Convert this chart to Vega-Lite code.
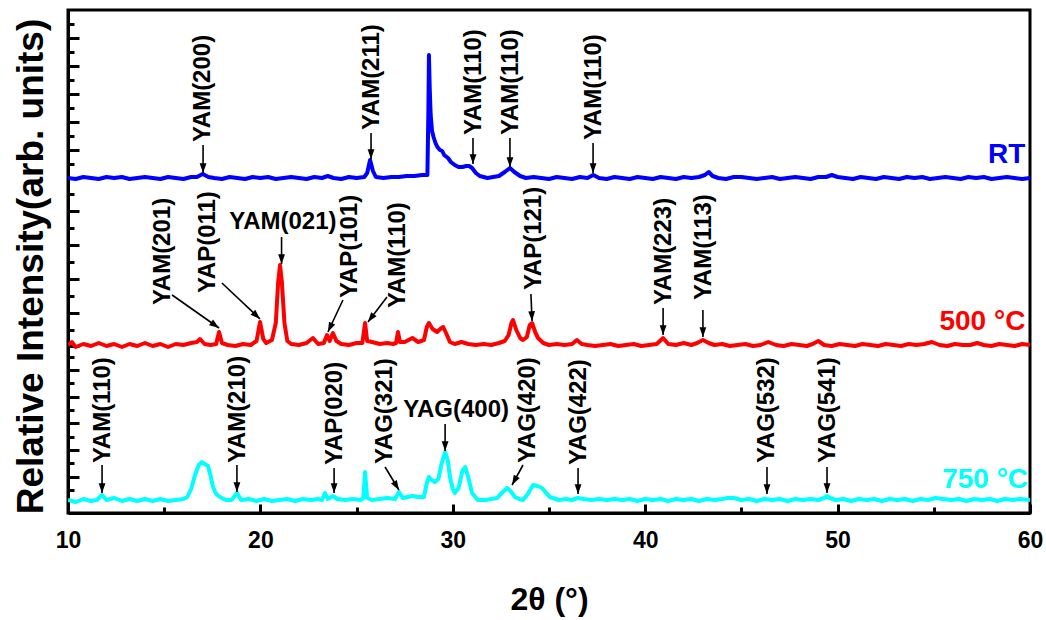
{
"$schema": "https://vega.github.io/schema/vega-lite/v6.json",
"width": 962, "height": 503,
"autosize": {"type": "none"},
"padding": {"left": 68, "top": 10, "right": 16, "bottom": 107},
"config": {"font": "Liberation Sans", "view": {"stroke": "black", "strokeWidth": 3}},
"resolve": {"scale": {"x": "independent", "y": "independent"}, "axis": {"x": "independent", "y": "independent"}},
"datasets": {
"curves": [
{"s":"RT","x":10.0,"h":335},{"s":"RT","x":10.4,"h":334},{"s":"RT","x":10.8,"h":336},{"s":"RT","x":11.2,"h":335},{"s":"RT","x":11.6,"h":334},{"s":"RT","x":12.0,"h":336},{"s":"RT","x":12.4,"h":335},{"s":"RT","x":12.8,"h":336},{"s":"RT","x":13.2,"h":334},{"s":"RT","x":13.6,"h":335},{"s":"RT","x":14.0,"h":336},{"s":"RT","x":14.4,"h":335},{"s":"RT","x":14.8,"h":334},{"s":"RT","x":15.2,"h":336},{"s":"RT","x":15.6,"h":335},{"s":"RT","x":16.0,"h":334},{"s":"RT","x":16.4,"h":336},{"s":"RT","x":16.7,"h":336},{"s":"RT","x":17.0,"h":339},{"s":"RT","x":17.3,"h":336},{"s":"RT","x":17.6,"h":335},{"s":"RT","x":18.0,"h":334},{"s":"RT","x":18.4,"h":336},{"s":"RT","x":18.8,"h":335},{"s":"RT","x":19.2,"h":334},{"s":"RT","x":19.6,"h":336},{"s":"RT","x":20.0,"h":335},{"s":"RT","x":20.4,"h":336},{"s":"RT","x":20.8,"h":334},{"s":"RT","x":21.2,"h":335},{"s":"RT","x":21.6,"h":336},{"s":"RT","x":22.0,"h":335},{"s":"RT","x":22.4,"h":334},{"s":"RT","x":22.8,"h":336},{"s":"RT","x":23.2,"h":335},{"s":"RT","x":23.5,"h":337},{"s":"RT","x":23.8,"h":335},{"s":"RT","x":24.2,"h":334},{"s":"RT","x":24.6,"h":336},{"s":"RT","x":25.0,"h":335},{"s":"RT","x":25.4,"h":336},{"s":"RT","x":25.55,"h":340},{"s":"RT","x":25.7,"h":353},{"s":"RT","x":25.85,"h":342},{"s":"RT","x":26.0,"h":336},{"s":"RT","x":26.4,"h":335},{"s":"RT","x":26.8,"h":336},{"s":"RT","x":27.2,"h":336},{"s":"RT","x":27.6,"h":337},{"s":"RT","x":28.0,"h":337},{"s":"RT","x":28.4,"h":338},{"s":"RT","x":28.68,"h":338},{"s":"RT","x":28.73,"h":400},{"s":"RT","x":28.76,"h":458},{"s":"RT","x":28.8,"h":425},{"s":"RT","x":28.85,"h":398},{"s":"RT","x":28.92,"h":382},{"s":"RT","x":29.0,"h":376},{"s":"RT","x":29.1,"h":370},{"s":"RT","x":29.2,"h":366},{"s":"RT","x":29.33,"h":363},{"s":"RT","x":29.45,"h":362},{"s":"RT","x":29.55,"h":358},{"s":"RT","x":29.75,"h":355},{"s":"RT","x":29.9,"h":351},{"s":"RT","x":30.1,"h":348},{"s":"RT","x":30.3,"h":346},{"s":"RT","x":30.5,"h":346},{"s":"RT","x":30.7,"h":347},{"s":"RT","x":30.85,"h":347},{"s":"RT","x":31.0,"h":345},{"s":"RT","x":31.2,"h":340},{"s":"RT","x":31.4,"h":337},{"s":"RT","x":31.6,"h":336},{"s":"RT","x":31.8,"h":335},{"s":"RT","x":32.1,"h":336},{"s":"RT","x":32.4,"h":337},{"s":"RT","x":32.7,"h":341},{"s":"RT","x":32.97,"h":345},{"s":"RT","x":33.2,"h":341},{"s":"RT","x":33.5,"h":337},{"s":"RT","x":33.8,"h":335},{"s":"RT","x":34.2,"h":336},{"s":"RT","x":34.6,"h":335},{"s":"RT","x":35.0,"h":334},{"s":"RT","x":35.4,"h":336},{"s":"RT","x":35.8,"h":335},{"s":"RT","x":36.2,"h":334},{"s":"RT","x":36.6,"h":336},{"s":"RT","x":37.0,"h":335},{"s":"RT","x":37.3,"h":338},{"s":"RT","x":37.6,"h":335},{"s":"RT","x":38.0,"h":334},{"s":"RT","x":38.4,"h":336},{"s":"RT","x":38.8,"h":335},{"s":"RT","x":39.2,"h":334},{"s":"RT","x":39.6,"h":336},{"s":"RT","x":40.0,"h":335},{"s":"RT","x":40.4,"h":334},{"s":"RT","x":40.8,"h":336},{"s":"RT","x":41.2,"h":335},{"s":"RT","x":41.6,"h":334},{"s":"RT","x":42.0,"h":336},{"s":"RT","x":42.4,"h":335},{"s":"RT","x":42.8,"h":336},{"s":"RT","x":43.1,"h":338},{"s":"RT","x":43.3,"h":341},{"s":"RT","x":43.5,"h":337},{"s":"RT","x":43.8,"h":335},{"s":"RT","x":44.2,"h":334},{"s":"RT","x":44.6,"h":336},{"s":"RT","x":45.0,"h":336},{"s":"RT","x":45.4,"h":335},{"s":"RT","x":45.8,"h":334},{"s":"RT","x":46.2,"h":335},{"s":"RT","x":46.6,"h":336},{"s":"RT","x":47.0,"h":334},{"s":"RT","x":47.4,"h":335},{"s":"RT","x":47.8,"h":336},{"s":"RT","x":48.2,"h":335},{"s":"RT","x":48.6,"h":334},{"s":"RT","x":49.0,"h":336},{"s":"RT","x":49.4,"h":336},{"s":"RT","x":49.7,"h":338},{"s":"RT","x":50.0,"h":336},{"s":"RT","x":50.4,"h":335},{"s":"RT","x":50.8,"h":334},{"s":"RT","x":51.2,"h":336},{"s":"RT","x":51.6,"h":335},{"s":"RT","x":52.0,"h":334},{"s":"RT","x":52.4,"h":336},{"s":"RT","x":52.8,"h":335},{"s":"RT","x":53.2,"h":334},{"s":"RT","x":53.6,"h":336},{"s":"RT","x":54.0,"h":335},{"s":"RT","x":54.4,"h":336},{"s":"RT","x":54.8,"h":334},{"s":"RT","x":55.2,"h":335},{"s":"RT","x":55.6,"h":336},{"s":"RT","x":56.0,"h":335},{"s":"RT","x":56.4,"h":334},{"s":"RT","x":56.8,"h":336},{"s":"RT","x":57.2,"h":335},{"s":"RT","x":57.6,"h":336},{"s":"RT","x":58.0,"h":334},{"s":"RT","x":58.4,"h":335},{"s":"RT","x":58.8,"h":336},{"s":"RT","x":59.2,"h":335},{"s":"RT","x":59.6,"h":334},{"s":"RT","x":60.0,"h":335},
{"s":"500","x":10.0,"h":168},{"s":"500","x":10.2,"h":171},{"s":"500","x":10.4,"h":166},{"s":"500","x":10.8,"h":169},{"s":"500","x":11.2,"h":167},{"s":"500","x":11.6,"h":170},{"s":"500","x":12.0,"h":167},{"s":"500","x":12.4,"h":169},{"s":"500","x":12.8,"h":166},{"s":"500","x":13.2,"h":169},{"s":"500","x":13.6,"h":167},{"s":"500","x":14.0,"h":170},{"s":"500","x":14.4,"h":167},{"s":"500","x":14.8,"h":169},{"s":"500","x":15.2,"h":166},{"s":"500","x":15.6,"h":169},{"s":"500","x":16.0,"h":168},{"s":"500","x":16.4,"h":170},{"s":"500","x":16.7,"h":171},{"s":"500","x":16.86,"h":174},{"s":"500","x":17.1,"h":169},{"s":"500","x":17.4,"h":168},{"s":"500","x":17.7,"h":169},{"s":"500","x":17.85,"h":181},{"s":"500","x":18.0,"h":170},{"s":"500","x":18.3,"h":168},{"s":"500","x":18.7,"h":167},{"s":"500","x":19.1,"h":169},{"s":"500","x":19.5,"h":168},{"s":"500","x":19.8,"h":172},{"s":"500","x":19.98,"h":191},{"s":"500","x":20.15,"h":174},{"s":"500","x":20.3,"h":170},{"s":"500","x":20.6,"h":173},{"s":"500","x":20.8,"h":190},{"s":"500","x":20.92,"h":230},{"s":"500","x":21.02,"h":248},{"s":"500","x":21.12,"h":230},{"s":"500","x":21.25,"h":190},{"s":"500","x":21.4,"h":172},{"s":"500","x":21.6,"h":169},{"s":"500","x":22.0,"h":168},{"s":"500","x":22.4,"h":170},{"s":"500","x":22.73,"h":175},{"s":"500","x":23.0,"h":169},{"s":"500","x":23.3,"h":170},{"s":"500","x":23.46,"h":178},{"s":"500","x":23.6,"h":172},{"s":"500","x":23.77,"h":180},{"s":"500","x":23.95,"h":172},{"s":"500","x":24.2,"h":169},{"s":"500","x":24.6,"h":168},{"s":"500","x":25.0,"h":170},{"s":"500","x":25.3,"h":170},{"s":"500","x":25.44,"h":190},{"s":"500","x":25.55,"h":172},{"s":"500","x":25.8,"h":171},{"s":"500","x":26.2,"h":169},{"s":"500","x":26.6,"h":170},{"s":"500","x":26.9,"h":169},{"s":"500","x":27.05,"h":170},{"s":"500","x":27.15,"h":181},{"s":"500","x":27.25,"h":171},{"s":"500","x":27.5,"h":171},{"s":"500","x":27.9,"h":175},{"s":"500","x":28.2,"h":171},{"s":"500","x":28.5,"h":173},{"s":"500","x":28.65,"h":186},{"s":"500","x":28.76,"h":190},{"s":"500","x":28.95,"h":184},{"s":"500","x":29.18,"h":181},{"s":"500","x":29.35,"h":184},{"s":"500","x":29.5,"h":186},{"s":"500","x":29.65,"h":180},{"s":"500","x":29.85,"h":171},{"s":"500","x":30.1,"h":169},{"s":"500","x":30.45,"h":171},{"s":"500","x":30.8,"h":169},{"s":"500","x":31.2,"h":168},{"s":"500","x":31.6,"h":169},{"s":"500","x":32.0,"h":168},{"s":"500","x":32.4,"h":170},{"s":"500","x":32.7,"h":172},{"s":"500","x":32.9,"h":178},{"s":"500","x":33.05,"h":190},{"s":"500","x":33.13,"h":193},{"s":"500","x":33.3,"h":183},{"s":"500","x":33.5,"h":175},{"s":"500","x":33.65,"h":173},{"s":"500","x":33.85,"h":176},{"s":"500","x":34.0,"h":188},{"s":"500","x":34.12,"h":190},{"s":"500","x":34.3,"h":180},{"s":"500","x":34.43,"h":175},{"s":"500","x":34.7,"h":170},{"s":"500","x":35.0,"h":168},{"s":"500","x":35.4,"h":169},{"s":"500","x":35.8,"h":168},{"s":"500","x":36.2,"h":169},{"s":"500","x":36.45,"h":173},{"s":"500","x":36.7,"h":169},{"s":"500","x":37.0,"h":168},{"s":"500","x":37.4,"h":167},{"s":"500","x":37.8,"h":168},{"s":"500","x":38.2,"h":169},{"s":"500","x":38.6,"h":167},{"s":"500","x":39.0,"h":168},{"s":"500","x":39.4,"h":169},{"s":"500","x":39.8,"h":167},{"s":"500","x":40.2,"h":168},{"s":"500","x":40.6,"h":169},{"s":"500","x":40.93,"h":175},{"s":"500","x":41.2,"h":169},{"s":"500","x":41.6,"h":168},{"s":"500","x":42.0,"h":170},{"s":"500","x":42.4,"h":168},{"s":"500","x":42.7,"h":170},{"s":"500","x":43.0,"h":173},{"s":"500","x":43.3,"h":170},{"s":"500","x":43.6,"h":168},{"s":"500","x":44.0,"h":169},{"s":"500","x":44.4,"h":167},{"s":"500","x":44.8,"h":168},{"s":"500","x":45.2,"h":169},{"s":"500","x":45.6,"h":167},{"s":"500","x":46.0,"h":168},{"s":"500","x":46.4,"h":171},{"s":"500","x":46.8,"h":168},{"s":"500","x":47.2,"h":167},{"s":"500","x":47.6,"h":169},{"s":"500","x":48.0,"h":168},{"s":"500","x":48.4,"h":167},{"s":"500","x":48.7,"h":169},{"s":"500","x":49.0,"h":172},{"s":"500","x":49.3,"h":168},{"s":"500","x":49.7,"h":167},{"s":"500","x":50.1,"h":169},{"s":"500","x":50.5,"h":168},{"s":"500","x":50.9,"h":167},{"s":"500","x":51.3,"h":169},{"s":"500","x":51.7,"h":168},{"s":"500","x":52.1,"h":167},{"s":"500","x":52.5,"h":169},{"s":"500","x":52.9,"h":168},{"s":"500","x":53.3,"h":167},{"s":"500","x":53.7,"h":169},{"s":"500","x":54.1,"h":168},{"s":"500","x":54.5,"h":169},{"s":"500","x":54.9,"h":171},{"s":"500","x":55.3,"h":168},{"s":"500","x":55.7,"h":167},{"s":"500","x":56.1,"h":169},{"s":"500","x":56.5,"h":168},{"s":"500","x":56.9,"h":168},{"s":"500","x":57.25,"h":170},{"s":"500","x":57.6,"h":168},{"s":"500","x":58.0,"h":167},{"s":"500","x":58.4,"h":169},{"s":"500","x":58.8,"h":168},{"s":"500","x":59.2,"h":167},{"s":"500","x":59.6,"h":169},{"s":"500","x":60.0,"h":168},
{"s":"750","x":10.0,"h":13},{"s":"750","x":10.4,"h":11},{"s":"750","x":10.8,"h":14},{"s":"750","x":11.2,"h":12},{"s":"750","x":11.5,"h":13},{"s":"750","x":11.77,"h":18},{"s":"750","x":12.0,"h":13},{"s":"750","x":12.4,"h":15},{"s":"750","x":12.8,"h":12},{"s":"750","x":13.2,"h":14},{"s":"750","x":13.6,"h":12},{"s":"750","x":14.0,"h":14},{"s":"750","x":14.4,"h":12},{"s":"750","x":14.8,"h":14},{"s":"750","x":15.2,"h":12},{"s":"750","x":15.6,"h":13},{"s":"750","x":16.0,"h":14},{"s":"750","x":16.2,"h":16},{"s":"750","x":16.4,"h":24},{"s":"750","x":16.6,"h":38},{"s":"750","x":16.8,"h":48},{"s":"750","x":16.96,"h":51},{"s":"750","x":17.1,"h":49},{"s":"750","x":17.28,"h":47},{"s":"750","x":17.4,"h":38},{"s":"750","x":17.54,"h":26},{"s":"750","x":17.7,"h":19},{"s":"750","x":17.9,"h":16},{"s":"750","x":18.2,"h":13},{"s":"750","x":18.5,"h":13},{"s":"750","x":18.78,"h":20},{"s":"750","x":19.0,"h":13},{"s":"750","x":19.4,"h":14},{"s":"750","x":19.8,"h":12},{"s":"750","x":20.2,"h":14},{"s":"750","x":20.6,"h":12},{"s":"750","x":21.0,"h":13},{"s":"750","x":21.4,"h":14},{"s":"750","x":21.8,"h":12},{"s":"750","x":22.2,"h":14},{"s":"750","x":22.6,"h":13},{"s":"750","x":23.0,"h":14},{"s":"750","x":23.2,"h":13},{"s":"750","x":23.36,"h":20},{"s":"750","x":23.5,"h":14},{"s":"750","x":23.77,"h":17},{"s":"750","x":24.0,"h":14},{"s":"750","x":24.4,"h":13},{"s":"750","x":24.8,"h":14},{"s":"750","x":25.2,"h":13},{"s":"750","x":25.35,"h":15},{"s":"750","x":25.44,"h":41},{"s":"750","x":25.55,"h":15},{"s":"750","x":25.8,"h":13},{"s":"750","x":26.2,"h":14},{"s":"750","x":26.6,"h":15},{"s":"750","x":27.0,"h":14},{"s":"750","x":27.2,"h":21},{"s":"750","x":27.4,"h":15},{"s":"750","x":27.9,"h":17},{"s":"750","x":28.2,"h":16},{"s":"750","x":28.5,"h":16},{"s":"750","x":28.65,"h":30},{"s":"750","x":28.76,"h":36},{"s":"750","x":28.9,"h":33},{"s":"750","x":29.07,"h":31},{"s":"750","x":29.25,"h":34},{"s":"750","x":29.4,"h":48},{"s":"750","x":29.6,"h":61},{"s":"750","x":29.75,"h":52},{"s":"750","x":29.85,"h":36},{"s":"750","x":30.0,"h":24},{"s":"750","x":30.1,"h":20},{"s":"750","x":30.3,"h":25},{"s":"750","x":30.5,"h":42},{"s":"750","x":30.65,"h":46},{"s":"750","x":30.8,"h":36},{"s":"750","x":31.0,"h":20},{"s":"750","x":31.3,"h":13},{"s":"750","x":31.7,"h":13},{"s":"750","x":32.0,"h":14},{"s":"750","x":32.3,"h":15},{"s":"750","x":32.55,"h":20},{"s":"750","x":32.82,"h":25},{"s":"750","x":33.0,"h":22},{"s":"750","x":33.23,"h":16},{"s":"750","x":33.45,"h":14},{"s":"750","x":33.65,"h":13},{"s":"750","x":33.9,"h":19},{"s":"750","x":34.17,"h":28},{"s":"750","x":34.4,"h":27},{"s":"750","x":34.64,"h":25},{"s":"750","x":34.85,"h":20},{"s":"750","x":35.05,"h":16},{"s":"750","x":35.5,"h":13},{"s":"750","x":35.9,"h":14},{"s":"750","x":36.2,"h":13},{"s":"750","x":36.5,"h":15},{"s":"750","x":36.8,"h":14},{"s":"750","x":37.2,"h":13},{"s":"750","x":37.6,"h":14},{"s":"750","x":38.0,"h":13},{"s":"750","x":38.4,"h":14},{"s":"750","x":38.8,"h":13},{"s":"750","x":39.2,"h":14},{"s":"750","x":39.6,"h":12},{"s":"750","x":40.0,"h":14},{"s":"750","x":40.4,"h":13},{"s":"750","x":40.8,"h":14},{"s":"750","x":41.2,"h":12},{"s":"750","x":41.6,"h":14},{"s":"750","x":42.0,"h":13},{"s":"750","x":42.4,"h":14},{"s":"750","x":42.8,"h":12},{"s":"750","x":43.2,"h":14},{"s":"750","x":43.6,"h":13},{"s":"750","x":44.0,"h":14},{"s":"750","x":44.3,"h":15},{"s":"750","x":44.6,"h":15},{"s":"750","x":45.0,"h":13},{"s":"750","x":45.4,"h":14},{"s":"750","x":45.8,"h":12},{"s":"750","x":46.2,"h":14},{"s":"750","x":46.6,"h":13},{"s":"750","x":47.0,"h":14},{"s":"750","x":47.4,"h":12},{"s":"750","x":47.8,"h":14},{"s":"750","x":48.2,"h":13},{"s":"750","x":48.6,"h":14},{"s":"750","x":49.0,"h":13},{"s":"750","x":49.3,"h":15},{"s":"750","x":49.45,"h":17},{"s":"750","x":49.6,"h":15},{"s":"750","x":49.9,"h":13},{"s":"750","x":50.3,"h":14},{"s":"750","x":50.7,"h":12},{"s":"750","x":51.1,"h":14},{"s":"750","x":51.5,"h":13},{"s":"750","x":51.9,"h":14},{"s":"750","x":52.3,"h":12},{"s":"750","x":52.7,"h":14},{"s":"750","x":53.1,"h":13},{"s":"750","x":53.5,"h":14},{"s":"750","x":53.9,"h":12},{"s":"750","x":54.3,"h":14},{"s":"750","x":54.7,"h":13},{"s":"750","x":55.1,"h":15},{"s":"750","x":55.5,"h":14},{"s":"750","x":55.9,"h":13},{"s":"750","x":56.3,"h":14},{"s":"750","x":56.7,"h":12},{"s":"750","x":57.1,"h":14},{"s":"750","x":57.5,"h":13},{"s":"750","x":57.9,"h":14},{"s":"750","x":58.3,"h":12},{"s":"750","x":58.7,"h":14},{"s":"750","x":59.1,"h":13},{"s":"750","x":59.5,"h":14},{"s":"750","x":60.0,"h":13}
],
"ann": [
{"lab":"YAM(200)","dir":"v","tx":17.02,"th":371,"x1":17.02,"h1":368,"x2":17.02,"h2":340},
{"lab":"YAM(211)","dir":"v","tx":25.8,"th":383,"x1":25.75,"h1":380,"x2":25.75,"h2":354},
{"lab":"YAM(110)","dir":"v","tx":31.1,"th":378,"x1":31.05,"h1":375,"x2":31.05,"h2":349},
{"lab":"YAM(110)","dir":"v","tx":33.05,"th":378,"x1":32.97,"h1":375,"x2":32.97,"h2":346},
{"lab":"YAM(110)","dir":"v","tx":37.33,"th":373,"x1":37.29,"h1":370,"x2":37.29,"h2":340},
{"lab":"YAM(201)","dir":"v","tx":14.94,"th":208,"x1":15.41,"h1":218,"x2":17.85,"h2":185},
{"lab":"YAP(011)","dir":"v","tx":17.28,"th":220,"x1":18.0,"h1":230,"x2":19.98,"h2":194},
{"lab":"YAM(021)","dir":"h","tx":21.17,"th":291,"x1":21.1,"h1":276,"x2":21.1,"h2":249},
{"lab":"YAP(101)","dir":"v","tx":24.66,"th":215,"x1":24.29,"h1":213,"x2":23.51,"h2":181},
{"lab":"YAM(110)","dir":"v","tx":27.15,"th":205,"x1":26.58,"h1":216,"x2":25.59,"h2":191},
{"lab":"YAP(121)","dir":"v","tx":34.22,"th":223,"x1":34.06,"h1":219,"x2":34.12,"h2":192},
{"lab":"YAM(223)","dir":"v","tx":41.0,"th":208,"x1":40.93,"h1":205,"x2":40.93,"h2":178},
{"lab":"YAM(113)","dir":"v","tx":43.06,"th":213,"x1":43.0,"h1":203,"x2":43.0,"h2":176},
{"lab":"YAM(110)","dir":"v","tx":11.8,"th":50,"x1":11.77,"h1":48,"x2":11.77,"h2":20},
{"lab":"YAM(210)","dir":"v","tx":18.86,"th":50,"x1":18.78,"h1":48,"x2":18.78,"h2":21},
{"lab":"YAP(020)","dir":"v","tx":23.9,"th":48,"x1":23.83,"h1":45,"x2":23.83,"h2":20},
{"lab":"YAG(321)","dir":"v","tx":26.48,"th":49,"x1":26.48,"h1":46,"x2":27.2,"h2":23},
{"lab":"YAG(400)","dir":"h","tx":30.17,"th":103,"x1":29.6,"h1":89,"x2":29.6,"h2":62},
{"lab":"YAG(420)","dir":"v","tx":33.91,"th":50,"x1":33.65,"h1":48,"x2":33.08,"h2":28},
{"lab":"YAG(422)","dir":"v","tx":36.56,"th":48,"x1":36.51,"h1":45,"x2":36.51,"h2":19},
{"lab":"YAG(532)","dir":"v","tx":46.33,"th":50,"x1":46.33,"h1":46,"x2":46.33,"h2":19},
{"lab":"YAG(541)","dir":"v","tx":49.48,"th":50,"x1":49.45,"h1":46,"x2":49.45,"h2":20}
],
"tags": [
{"s":"RT","t":"RT","x":59.76,"h":350},
{"s":"500","t":"500 °C","x":59.76,"h":183},
{"s":"750","t":"750 °C","x":59.9,"h":25}
]
},
"layer": [
{
"data": {"name": "curves"},
"mark": {"type": "line", "strokeWidth": 4, "strokeJoin": "round", "clip": true},
"encoding": {
"x": {"field": "x", "type": "quantitative", "scale": {"domain": [10, 60], "nice": false, "zero": false},
"axis": {"orient": "bottom", "values": [10,20,30,40,50,60], "title": "2θ (°)",
"labelFont": "Liberation Sans", "labelFontWeight": "bold", "labelFontSize": 23, "labelColor": "black",
"labelBaseline": "alphabetic", "labelPadding": 43, "labelFlush": false,
"tickColor": "black", "tickWidth": 3, "tickSize": -9,
"domainColor": "black", "domainWidth": 3, "grid": false,
"titleFont": "Liberation Sans", "titleFontSize": 32, "titleFontWeight": "bold", "titleColor": "black",
"titleX": 481, "titleY": 96, "titleBaseline": "alphabetic", "titleAlign": "center"}},
"y": {"field": "h", "type": "quantitative", "scale": {"domain": [0, 503], "nice": false, "zero": false},
"axis": {"orient": "left", "values": [475,447,419,391,363,335,302,268,234,200,167,143,116,90,63,36],
"labels": false, "grid": false, "tickColor": "black", "tickWidth": 3, "tickSize": -11,
"domainColor": "black", "domainWidth": 3,
"title": "Relative Intensity(arb. units)",
"titleFont": "Liberation Sans", "titleFontSize": 37, "titleFontWeight": "bold", "titleColor": "black",
"titleX": -37, "titleY": 256, "titleAngle": -90, "titleAlign": "center", "titleBaseline": "middle"}},
"color": {"field": "s", "type": "nominal", "scale": {"domain": ["RT", "500", "750"], "range": ["#0000ff", "#ff0000", "#00ffff"]}, "legend": null}
}
},
{
"data": {"name": "ann"},
"mark": {"type": "rule", "color": "black", "strokeWidth": 1.6},
"encoding": {
"x": {"field": "x1", "type": "quantitative", "scale": {"domain": [10, 60], "nice": false, "zero": false},
"axis": {"orient": "bottom", "values": [15,25,35,45,55], "labels": false, "title": null, "domain": false, "grid": false,
"tickColor": "black", "tickWidth": 3, "tickSize": -6}},
"y": {"field": "h1", "type": "quantitative", "scale": {"domain": [0, 503], "nice": false, "zero": false},
"axis": {"orient": "left", "values": [489,461,433,405,377,349,319,285,251,217,183,156,130,103,76,50,23], "labels": false, "title": null, "domain": false, "grid": false,
"tickColor": "black", "tickWidth": 3, "tickSize": -6}},
"x2": {"field": "x2"},
"y2": {"field": "h2"}
}
},
{
"data": {"name": "ann"},
"transform": [{"calculate": "atan2(-(datum.x2 - datum.x1) * 19.24, datum.h1 - datum.h2) * 180 / PI", "as": "ang"}],
"mark": {"type": "point", "shape": "M0,0 L-0.35,-1 L0.35,-1 Z", "filled": true, "color": "black", "opacity": 1, "size": 380},
"encoding": {
"x": {"field": "x2", "type": "quantitative", "scale": {"domain": [10, 60], "nice": false, "zero": false}, "axis": null},
"y": {"field": "h2", "type": "quantitative", "scale": {"domain": [0, 503], "nice": false, "zero": false}, "axis": null},
"angle": {"field": "ang", "type": "quantitative", "scale": null}
}
},
{
"data": {"name": "ann"},
"transform": [{"filter": "datum.dir === 'v'"}],
"mark": {"type": "text", "angle": 270, "align": "left", "baseline": "middle", "font": "Liberation Sans", "fontSize": 24, "fontWeight": "bold", "color": "black"},
"encoding": {
"x": {"field": "tx", "type": "quantitative", "scale": {"domain": [10, 60], "nice": false, "zero": false}, "axis": null},
"y": {"field": "th", "type": "quantitative", "scale": {"domain": [0, 503], "nice": false, "zero": false}, "axis": null},
"text": {"field": "lab"}
}
},
{
"data": {"name": "ann"},
"transform": [{"filter": "datum.dir === 'h'"}],
"mark": {"type": "text", "align": "center", "baseline": "middle", "font": "Liberation Sans", "fontSize": 24, "fontWeight": "bold", "color": "black"},
"encoding": {
"x": {"field": "tx", "type": "quantitative", "scale": {"domain": [10, 60], "nice": false, "zero": false}, "axis": null},
"y": {"field": "th", "type": "quantitative", "scale": {"domain": [0, 503], "nice": false, "zero": false}, "axis": null},
"text": {"field": "lab"}
}
},
{
"data": {"name": "tags"},
"mark": {"type": "text", "align": "right", "baseline": "alphabetic", "font": "Liberation Sans", "fontSize": 28, "fontWeight": "bold"},
"encoding": {
"x": {"field": "x", "type": "quantitative", "scale": {"domain": [10, 60], "nice": false, "zero": false}, "axis": null},
"y": {"field": "h", "type": "quantitative", "scale": {"domain": [0, 503], "nice": false, "zero": false}, "axis": null},
"text": {"field": "t"},
"color": {"field": "s", "type": "nominal", "legend": null}
}
}
]
}
